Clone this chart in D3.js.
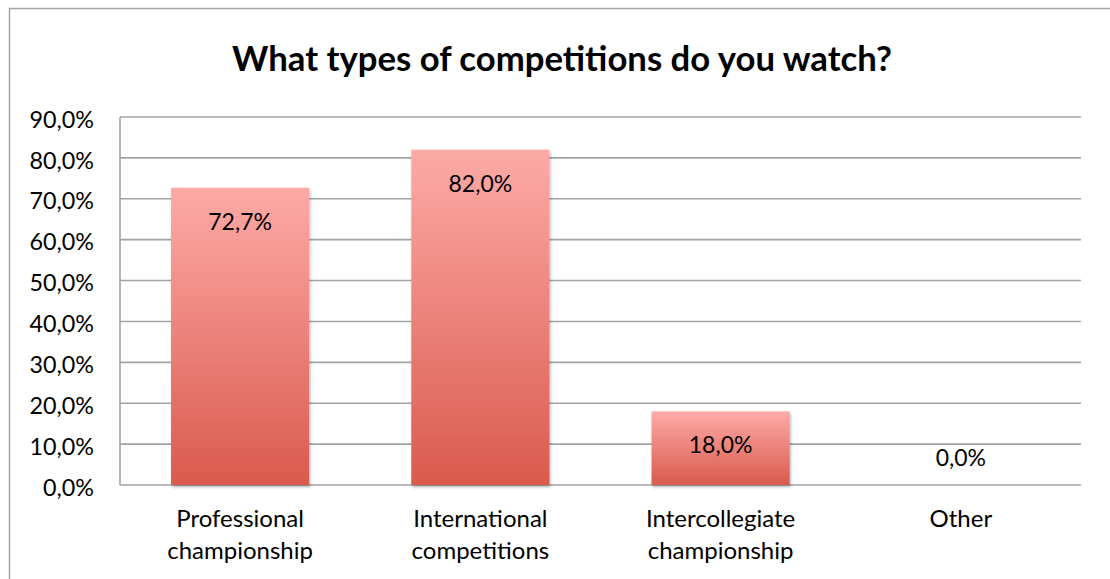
<!DOCTYPE html>
<html><head><meta charset="utf-8">
<script src="https://cdn.jsdelivr.net/npm/d3@7/dist/d3.min.js"></script>
<style>body{margin:0;background:#fff}svg{display:block}text{font-family:Lato,"Open Sans",sans-serif}</style>
</head><body>
<script>
const categories = [["Professional","championship"],["International","competitions"],["Intercollegiate","championship"],["Other"]];
const values = [72.7, 82.0, 18.0, 0.0];
const valueLabels = ["72,7%","82,0%","18,0%","0,0%"];
const tickValues = [0,10,20,30,40,50,60,70,80,90];
const tickLabels = ["0,0%","10,0%","20,0%","30,0%","40,0%","50,0%","60,0%","70,0%","80,0%","90,0%"];
const title = "What types of competitions do you watch?";

(function(){
const W=1110,H=579;
const svg=d3.select("body").append("svg").attr("width",W).attr("height",H);
const defs=svg.append("defs");
const g=defs.append("linearGradient").attr("id","bg").attr("x1",0).attr("x2",0).attr("y1",0).attr("y2",1);
g.append("stop").attr("offset","0%").attr("stop-color","#fdaaa7");
g.append("stop").attr("offset","100%").attr("stop-color","#da5a4d");
const f=defs.append("filter").attr("id","sh").attr("x","-10%").attr("y","-10%").attr("width","130%").attr("height","130%");
f.append("feDropShadow").attr("dx",1).attr("dy",2).attr("stdDeviation",1.5).attr("flood-color","#000").attr("flood-opacity",0.3);

svg.append("rect").attr("x",9.5).attr("y",8.5).attr("width",1120).attr("height",600).attr("fill","none").attr("stroke","#a6a6a6").attr("stroke-width",1.5);

svg.append("text").attr("x",562).attr("y",71).attr("text-anchor","middle").attr("font-size",34.7).attr("font-weight","bold").attr("fill","#000").text(title);

const pl=120,pr=1081,pt=117,pb=485;
const x=d3.scaleBand().domain(d3.range(values.length)).range([pl,pr]).paddingInner(0.425).paddingOuter(0.2125);
const y=d3.scaleLinear().domain([0,90]).range([pb,pt]);

svg.append("g").selectAll("line").data(tickValues).join("line")
 .attr("x1",pl).attr("x2",pr).attr("y1",d=>y(d)).attr("y2",d=>y(d))
 .attr("stroke","#a3a3a3").attr("stroke-width",1.6);
svg.append("line").attr("x1",pl).attr("x2",pl).attr("y1",pt).attr("y2",pb).attr("stroke","#a3a3a3").attr("stroke-width",1.6);

const ya=svg.append("g").attr("transform",`translate(${pl-26},2)`)
 .call(d3.axisLeft(y).tickValues(tickValues).tickSize(0).tickPadding(0).tickFormat((d,i)=>tickLabels[i]));
ya.select(".domain").remove();
ya.selectAll("text").attr("font-size",23.3).attr("fill","#000").attr("font-family","Lato,sans-serif").attr("dy","0.35em");

svg.append("g").selectAll("rect").data(values).join("rect")
 .attr("x",(d,i)=>x(i)).attr("width",x.bandwidth())
 .attr("y",d=>y(d)).attr("height",d=>pb-y(d))
 .attr("fill","url(#bg)").attr("filter","url(#sh)")
 .style("display",d=>d>0?null:"none");

svg.append("g").selectAll("text").data(values).join("text")
 .attr("x",(d,i)=>x(i)+x.bandwidth()/2)
 .attr("y",d=>d>0?y(d)+34:y(d)-27)
 .attr("dy","0.35em").attr("text-anchor","middle").attr("font-size",23).attr("fill","#000")
 .text((d,i)=>valueLabels[i]);

const cl=svg.append("g").selectAll("text").data(categories).join("text")
 .attr("x",(d,i)=>x(i)+x.bandwidth()/2).attr("y",521).attr("text-anchor","middle").attr("font-size",24).attr("fill","#000");
cl.each(function(d){
  const t=d3.select(this);
  d.forEach((s,j)=>t.append("tspan").attr("x",t.attr("x")).attr("dy",j?32:0).attr("dominant-baseline","middle").text(s));
});
})();
</script>
</body></html>
